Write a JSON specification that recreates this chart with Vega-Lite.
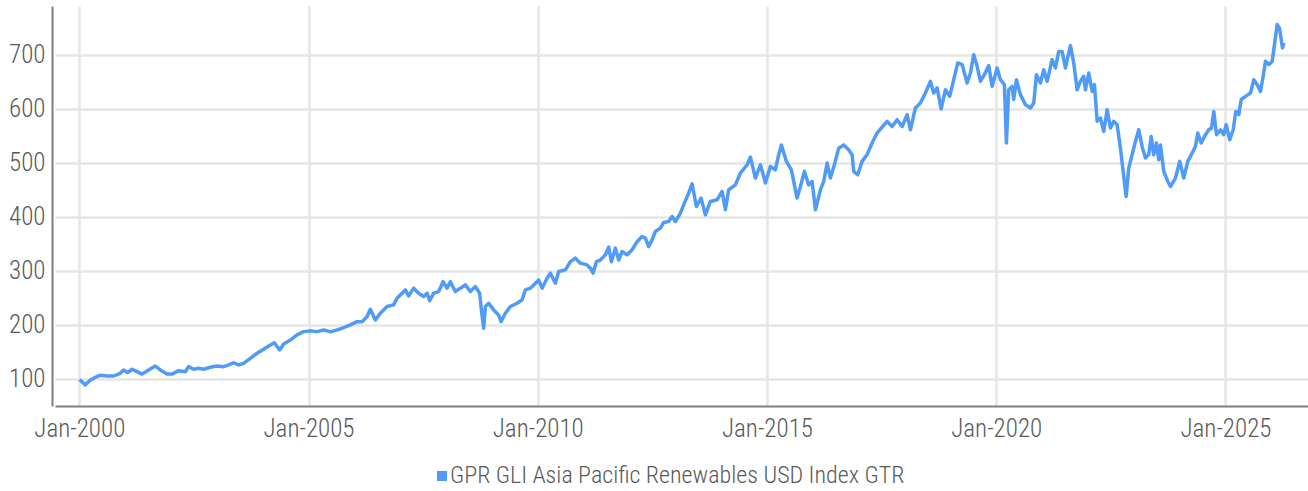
{
  "$schema": "https://vega.github.io/schema/vega-lite/v6.json",
  "width": 1253,
  "height": 400,
  "autosize": {"type": "none"},
  "padding": {"left": 55, "top": 6, "right": 0, "bottom": 85},
  "background": "white",
  "config": {
    "view": {"stroke": null},
    "font": "Roboto Condensed, Liberation Sans Narrow, Roboto"
  },
  "data": {
    "values": [
      {"year": 2000.007, "value": 99}, {"year": 2000.131, "value": 89}, {"year": 2000.240, "value": 98}, {"year": 2000.349, "value": 103},
      {"year": 2000.458, "value": 107}, {"year": 2000.604, "value": 105.5}, {"year": 2000.748, "value": 105.5}, {"year": 2000.894, "value": 110.5},
      {"year": 2000.966, "value": 116.7}, {"year": 2001.054, "value": 111.7}, {"year": 2001.150, "value": 118}, {"year": 2001.259, "value": 113.5},
      {"year": 2001.368, "value": 109}, {"year": 2001.512, "value": 116.7}, {"year": 2001.658, "value": 124}, {"year": 2001.767, "value": 116.7},
      {"year": 2001.913, "value": 109}, {"year": 2002.022, "value": 109}, {"year": 2002.166, "value": 115.4}, {"year": 2002.312, "value": 113.5},
      {"year": 2002.384, "value": 122.8}, {"year": 2002.493, "value": 118}, {"year": 2002.603, "value": 119.8}, {"year": 2002.712, "value": 118},
      {"year": 2002.858, "value": 121.7}, {"year": 2003.004, "value": 124}, {"year": 2003.148, "value": 122.8}, {"year": 2003.257, "value": 126},
      {"year": 2003.366, "value": 130}, {"year": 2003.475, "value": 126}, {"year": 2003.584, "value": 129}, {"year": 2003.731, "value": 138},
      {"year": 2003.877, "value": 147.6}, {"year": 2004.020, "value": 155}, {"year": 2004.167, "value": 163}, {"year": 2004.254, "value": 167},
      {"year": 2004.370, "value": 153.7}, {"year": 2004.457, "value": 164.8}, {"year": 2004.603, "value": 172}, {"year": 2004.749, "value": 181.5},
      {"year": 2004.893, "value": 187.6}, {"year": 2005.039, "value": 189}, {"year": 2005.185, "value": 187.6}, {"year": 2005.329, "value": 190.7},
      {"year": 2005.475, "value": 187}, {"year": 2005.622, "value": 190.7}, {"year": 2005.766, "value": 195}, {"year": 2005.912, "value": 200},
      {"year": 2006.058, "value": 206}, {"year": 2006.167, "value": 206}, {"year": 2006.276, "value": 215}, {"year": 2006.348, "value": 229},
      {"year": 2006.457, "value": 209}, {"year": 2006.566, "value": 221.7}, {"year": 2006.712, "value": 234}, {"year": 2006.856, "value": 237},
      {"year": 2006.931, "value": 249.4}, {"year": 2007.040, "value": 258.7}, {"year": 2007.112, "value": 264.8}, {"year": 2007.184, "value": 253.7},
      {"year": 2007.293, "value": 268}, {"year": 2007.402, "value": 258.7}, {"year": 2007.511, "value": 252.4}, {"year": 2007.585, "value": 258.7},
      {"year": 2007.642, "value": 245}, {"year": 2007.729, "value": 258.7}, {"year": 2007.838, "value": 261.7}, {"year": 2007.934, "value": 280},
      {"year": 2008.021, "value": 268}, {"year": 2008.093, "value": 280}, {"year": 2008.202, "value": 261.7}, {"year": 2008.311, "value": 268},
      {"year": 2008.420, "value": 274}, {"year": 2008.529, "value": 261.7}, {"year": 2008.639, "value": 271}, {"year": 2008.732, "value": 258.7},
      {"year": 2008.770, "value": 227.8}, {"year": 2008.820, "value": 194}, {"year": 2008.857, "value": 234}, {"year": 2008.929, "value": 240},
      {"year": 2009.038, "value": 227.8}, {"year": 2009.147, "value": 218.5}, {"year": 2009.199, "value": 206}, {"year": 2009.293, "value": 221.7},
      {"year": 2009.402, "value": 234}, {"year": 2009.548, "value": 240}, {"year": 2009.657, "value": 246}, {"year": 2009.729, "value": 264.8},
      {"year": 2009.838, "value": 268}, {"year": 2009.911, "value": 274}, {"year": 2010.020, "value": 283}, {"year": 2010.094, "value": 268},
      {"year": 2010.203, "value": 286.5}, {"year": 2010.275, "value": 295.7}, {"year": 2010.384, "value": 277}, {"year": 2010.456, "value": 298.7},
      {"year": 2010.602, "value": 301.9}, {"year": 2010.711, "value": 317}, {"year": 2010.820, "value": 323.5}, {"year": 2010.929, "value": 314.3},
      {"year": 2011.075, "value": 311}, {"year": 2011.147, "value": 305}, {"year": 2011.206, "value": 295.7}, {"year": 2011.278, "value": 317},
      {"year": 2011.365, "value": 320}, {"year": 2011.475, "value": 329.7}, {"year": 2011.547, "value": 343.9}, {"year": 2011.606, "value": 317},
      {"year": 2011.693, "value": 342}, {"year": 2011.765, "value": 320}, {"year": 2011.839, "value": 335.8}, {"year": 2011.948, "value": 329.7},
      {"year": 2012.057, "value": 339}, {"year": 2012.166, "value": 354}, {"year": 2012.275, "value": 363.5}, {"year": 2012.347, "value": 360.6},
      {"year": 2012.419, "value": 345}, {"year": 2012.493, "value": 357.4}, {"year": 2012.565, "value": 372.8}, {"year": 2012.674, "value": 379},
      {"year": 2012.746, "value": 389.5}, {"year": 2012.855, "value": 391.3}, {"year": 2012.930, "value": 400.6}, {"year": 2013.002, "value": 391.3},
      {"year": 2013.111, "value": 406.8}, {"year": 2013.198, "value": 425.3}, {"year": 2013.292, "value": 444}, {"year": 2013.366, "value": 461},
      {"year": 2013.460, "value": 419}, {"year": 2013.562, "value": 434.6}, {"year": 2013.656, "value": 403.7}, {"year": 2013.765, "value": 428.4},
      {"year": 2013.911, "value": 431.5}, {"year": 2014.020, "value": 447}, {"year": 2014.092, "value": 413}, {"year": 2014.164, "value": 450},
      {"year": 2014.310, "value": 459}, {"year": 2014.420, "value": 481}, {"year": 2014.566, "value": 496.3}, {"year": 2014.638, "value": 510.6},
      {"year": 2014.747, "value": 471.7}, {"year": 2014.856, "value": 496.3}, {"year": 2014.965, "value": 462.4}, {"year": 2015.074, "value": 493},
      {"year": 2015.183, "value": 487}, {"year": 2015.255, "value": 515}, {"year": 2015.314, "value": 533}, {"year": 2015.423, "value": 502.5},
      {"year": 2015.532, "value": 487}, {"year": 2015.656, "value": 434.6}, {"year": 2015.729, "value": 456}, {"year": 2015.816, "value": 484},
      {"year": 2015.909, "value": 459}, {"year": 2015.984, "value": 465.4}, {"year": 2016.056, "value": 413}, {"year": 2016.165, "value": 450},
      {"year": 2016.237, "value": 465.4}, {"year": 2016.311, "value": 499.5}, {"year": 2016.383, "value": 471.7}, {"year": 2016.470, "value": 496.3},
      {"year": 2016.564, "value": 527}, {"year": 2016.673, "value": 533}, {"year": 2016.782, "value": 524}, {"year": 2016.856, "value": 515},
      {"year": 2016.891, "value": 484}, {"year": 2016.978, "value": 477.8}, {"year": 2017.074, "value": 502.5}, {"year": 2017.183, "value": 515},
      {"year": 2017.292, "value": 536.5}, {"year": 2017.401, "value": 555}, {"year": 2017.510, "value": 566}, {"year": 2017.619, "value": 576.6},
      {"year": 2017.728, "value": 567}, {"year": 2017.838, "value": 579.7}, {"year": 2017.947, "value": 567}, {"year": 2018.056, "value": 589},
      {"year": 2018.128, "value": 561}, {"year": 2018.237, "value": 601.4}, {"year": 2018.346, "value": 610.6}, {"year": 2018.455, "value": 629},
      {"year": 2018.564, "value": 650.6}, {"year": 2018.636, "value": 629}, {"year": 2018.710, "value": 638.4}, {"year": 2018.798, "value": 599.5},
      {"year": 2018.892, "value": 635}, {"year": 2018.985, "value": 622.8}, {"year": 2019.073, "value": 653.7}, {"year": 2019.160, "value": 684.7},
      {"year": 2019.256, "value": 681.5}, {"year": 2019.365, "value": 647.6}, {"year": 2019.437, "value": 666}, {"year": 2019.509, "value": 700},
      {"year": 2019.583, "value": 678.4}, {"year": 2019.655, "value": 650.6}, {"year": 2019.742, "value": 663}, {"year": 2019.836, "value": 679.7},
      {"year": 2019.910, "value": 641.3}, {"year": 2020.019, "value": 675.4}, {"year": 2020.091, "value": 653.7}, {"year": 2020.178, "value": 644.5},
      {"year": 2020.222, "value": 536.5}, {"year": 2020.272, "value": 635}, {"year": 2020.347, "value": 641.3}, {"year": 2020.381, "value": 617},
      {"year": 2020.440, "value": 653.7}, {"year": 2020.527, "value": 626}, {"year": 2020.636, "value": 607.5}, {"year": 2020.746, "value": 601.4},
      {"year": 2020.818, "value": 610.6}, {"year": 2020.877, "value": 663}, {"year": 2020.964, "value": 647.6}, {"year": 2021.036, "value": 672},
      {"year": 2021.110, "value": 650.6}, {"year": 2021.219, "value": 690.8}, {"year": 2021.291, "value": 675.4}, {"year": 2021.363, "value": 706},
      {"year": 2021.437, "value": 706}, {"year": 2021.509, "value": 675.4}, {"year": 2021.618, "value": 716.7}, {"year": 2021.690, "value": 684.7},
      {"year": 2021.764, "value": 635}, {"year": 2021.836, "value": 650.6}, {"year": 2021.908, "value": 660}, {"year": 2021.945, "value": 635},
      {"year": 2022.018, "value": 666}, {"year": 2022.092, "value": 632}, {"year": 2022.142, "value": 644.5}, {"year": 2022.201, "value": 576.6},
      {"year": 2022.273, "value": 582.8}, {"year": 2022.345, "value": 558}, {"year": 2022.419, "value": 598}, {"year": 2022.491, "value": 564.3},
      {"year": 2022.563, "value": 576.6}, {"year": 2022.637, "value": 570.4}, {"year": 2022.709, "value": 527}, {"year": 2022.768, "value": 484},
      {"year": 2022.833, "value": 437.6}, {"year": 2022.890, "value": 490}, {"year": 2022.964, "value": 515}, {"year": 2023.036, "value": 539.5},
      {"year": 2023.108, "value": 561}, {"year": 2023.182, "value": 530.2}, {"year": 2023.254, "value": 508.7}, {"year": 2023.326, "value": 515},
      {"year": 2023.379, "value": 548.8}, {"year": 2023.435, "value": 515}, {"year": 2023.494, "value": 536.5}, {"year": 2023.545, "value": 505.6},
      {"year": 2023.582, "value": 533}, {"year": 2023.654, "value": 484}, {"year": 2023.741, "value": 465.4}, {"year": 2023.800, "value": 456},
      {"year": 2023.909, "value": 471.7}, {"year": 2024.003, "value": 502.5}, {"year": 2024.090, "value": 471.7}, {"year": 2024.178, "value": 502.5},
      {"year": 2024.274, "value": 518}, {"year": 2024.345, "value": 530.2}, {"year": 2024.396, "value": 555}, {"year": 2024.470, "value": 536.5},
      {"year": 2024.564, "value": 552}, {"year": 2024.636, "value": 561}, {"year": 2024.695, "value": 564.3}, {"year": 2024.745, "value": 595},
      {"year": 2024.804, "value": 552}, {"year": 2024.891, "value": 561}, {"year": 2024.963, "value": 552}, {"year": 2025.015, "value": 570.4},
      {"year": 2025.094, "value": 542.6}, {"year": 2025.168, "value": 561}, {"year": 2025.225, "value": 595}, {"year": 2025.290, "value": 589},
      {"year": 2025.343, "value": 617}, {"year": 2025.437, "value": 622.8}, {"year": 2025.546, "value": 629}, {"year": 2025.618, "value": 653.7},
      {"year": 2025.691, "value": 644.5}, {"year": 2025.764, "value": 632}, {"year": 2025.822, "value": 660}, {"year": 2025.873, "value": 687.7},
      {"year": 2025.944, "value": 681.5}, {"year": 2026.019, "value": 687.7}, {"year": 2026.069, "value": 718.6}, {"year": 2026.128, "value": 755.6},
      {"year": 2026.178, "value": 749.5}, {"year": 2026.215, "value": 727.8}, {"year": 2026.244, "value": 712.5}, {"year": 2026.272, "value": 721.7}
    ]
  },
  "mark": {"type": "line", "strokeWidth": 3.5, "strokeJoin": "round", "clip": true},
  "encoding": {
    "x": {
      "field": "year",
      "type": "quantitative",
      "scale": {"domain": [1999.47, 2026.8], "nice": false, "zero": false},
      "axis": {
        "title": null,
        "values": [2000, 2005, 2010, 2015, 2020, 2025],
        "labelExpr": "'Jan-' + datum.value",
        "grid": true,
        "gridColor": "#e6e6e6",
        "gridWidth": 2.5,
        "ticks": false,
        "domainColor": "#7f7f7f",
        "domainWidth": 2,
        "labelFontSize": 25,
        "labelFontWeight": 300,
        "labelColor": "#595959",
        "labelPadding": 10,
        "labelFlush": false,
        "labelOverlap": false
      }
    },
    "y": {
      "field": "value",
      "type": "quantitative",
      "scale": {"domain": [50, 790], "nice": false, "zero": false},
      "axis": {
        "title": null,
        "values": [100, 200, 300, 400, 500, 600, 700],
        "grid": true,
        "gridColor": "#e6e6e6",
        "gridWidth": 2.5,
        "ticks": false,
        "offset": 3,
        "domainColor": "#7f7f7f",
        "domainWidth": 2,
        "labelFontSize": 25,
        "labelFontWeight": 300,
        "labelColor": "#595959",
        "labelPadding": 7,
        "labelOverlap": false
      }
    },
    "color": {
      "datum": "GPR GLI Asia Pacific Renewables USD Index GTR",
      "type": "nominal",
      "scale": {"range": ["#509BF8"]},
      "legend": {
        "title": null,
        "orient": "none",
        "legendX": 375,
        "legendY": 458,
        "padding": 0,
        "symbolType": "square",
        "symbolSize": 100,
        "symbolStrokeWidth": 0,
        "symbolFillColor": "#509BF8",
        "labelFontSize": 24,
        "labelFontWeight": 300,
        "labelColor": "#595959",
        "labelOffset": -4,
        "labelLimit": 800
      }
    }
  }
}
